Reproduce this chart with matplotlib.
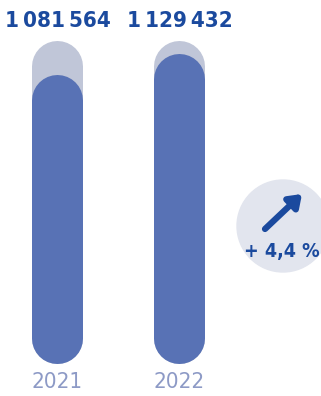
import matplotlib
matplotlib.use('Agg')
import matplotlib.pyplot as plt
from matplotlib.patches import Circle

years = ['2021', '2022']
values = [1081564, 1129432]
value_labels = ['1\u2009081\u2009564', '1\u2009129\u2009432']
change_label = '+ 4,4 %'

baseline = 540000
track_top = 1160000

fill_col = '#5872b5'
track_col = '#c0c6d8'
text_col = '#1b4a9e'
year_col = '#8d9ac6'

plt.rcParams['font.family'] = ['DejaVu Sans']
plt.rcParams['font.stretch'] = 'condensed'

fig = plt.figure(figsize=(3.21, 3.96), dpi=100)
ax = fig.add_axes([0, 0, 1, 1])
ax.set_xlim(-0.471, 2.16)
ax.set_ylim(407900, 1310600)
ax.axis('off')

lw = 51 * 72 / 100  # bar width 51 px, in points
xs = range(len(values))
for x, v, lab, yr in zip(xs, values, value_labels, years):
    ax.plot([x, x], [baseline, track_top], color=track_col, lw=lw,
            solid_capstyle='round', zorder=1)
    ax.plot([x, x], [baseline, v], color=fill_col, lw=lw,
            solid_capstyle='round', zorder=2)
    ax.text(x, 0.948, lab, transform=ax.get_xaxis_transform(),
            ha='center', va='center', fontsize=16, fontweight='bold',
            color=text_col)
    ax.text(x, 0.036, yr, transform=ax.get_xaxis_transform(),
            ha='center', va='center', fontsize=16, color=year_col)

# growth badge, drawn in pixel units
bx = fig.add_axes([0, 0, 1, 1])
bx.set_xlim(0, 321)
bx.set_ylim(396, 0)
bx.axis('off')
bx.add_patch(Circle((283, 226), 46, color='#e2e5ee', zorder=0))
bx.annotate('', xy=(302, 194), xytext=(265, 229),
            arrowprops=dict(arrowstyle='-|>,head_length=0.7,head_width=0.5',
                            lw=4.5, color=text_col, shrinkA=0, shrinkB=0,
                            capstyle='round'))
bx.text(282, 251, change_label, ha='center', va='center', fontsize=14,
        fontweight='bold', color=text_col)

fig.savefig('out.png', dpi=100)
